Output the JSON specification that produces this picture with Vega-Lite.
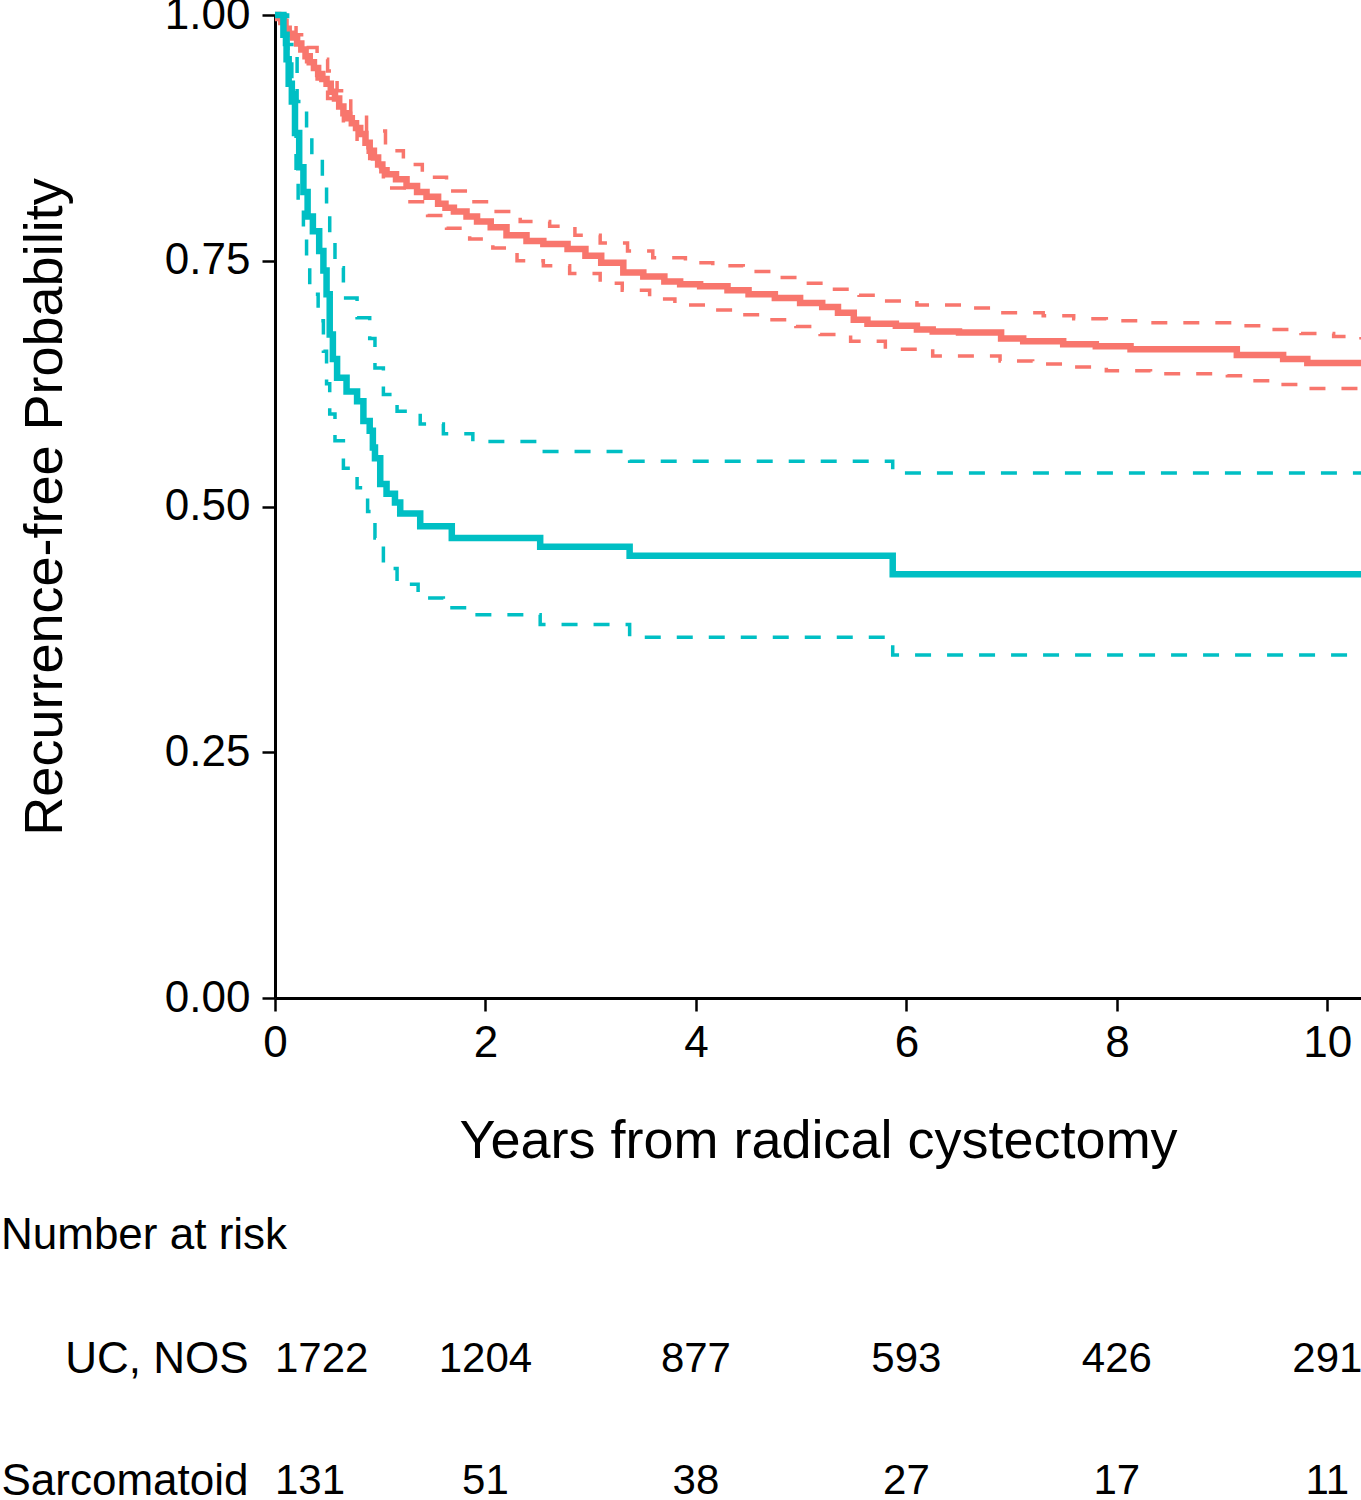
{
  "$schema": "https://vega.github.io/schema/vega-lite/v6.json",
  "autosize": {"type": "pad"},
  "padding": {"left": 0, "top": -7, "right": 0, "bottom": 0},
  "spacing": 46,
  "config": {
    "font": "Liberation Sans",
    "view": {"stroke": null},
    "axis": {
      "domainColor": "black", "domainWidth": 3, "tickColor": "black", "tickWidth": 2.5,
      "labelColor": "black", "titleColor": "black", "grid": false,
      "labelFont": "Liberation Sans", "titleFont": "Liberation Sans", "titleFontWeight": "normal"
    },
    "title": {"font": "Liberation Sans", "fontWeight": "normal", "color": "black"}
  },
  "datasets": {
    "km": [
      {"g": "UC, NOS", "s": "est", "t": 0, "p": 1.0},
      {"g": "UC, NOS", "s": "est", "t": 0.03, "p": 0.997},
      {"g": "UC, NOS", "s": "est", "t": 0.06, "p": 0.993},
      {"g": "UC, NOS", "s": "est", "t": 0.1, "p": 0.986},
      {"g": "UC, NOS", "s": "est", "t": 0.13, "p": 0.981},
      {"g": "UC, NOS", "s": "est", "t": 0.17, "p": 0.977},
      {"g": "UC, NOS", "s": "est", "t": 0.21, "p": 0.971},
      {"g": "UC, NOS", "s": "est", "t": 0.25, "p": 0.965},
      {"g": "UC, NOS", "s": "est", "t": 0.29, "p": 0.958},
      {"g": "UC, NOS", "s": "est", "t": 0.33, "p": 0.952},
      {"g": "UC, NOS", "s": "est", "t": 0.37, "p": 0.946},
      {"g": "UC, NOS", "s": "est", "t": 0.41, "p": 0.94},
      {"g": "UC, NOS", "s": "est", "t": 0.45, "p": 0.935},
      {"g": "UC, NOS", "s": "est", "t": 0.49, "p": 0.93},
      {"g": "UC, NOS", "s": "est", "t": 0.53, "p": 0.922},
      {"g": "UC, NOS", "s": "est", "t": 0.57, "p": 0.915},
      {"g": "UC, NOS", "s": "est", "t": 0.61, "p": 0.907},
      {"g": "UC, NOS", "s": "est", "t": 0.65, "p": 0.9},
      {"g": "UC, NOS", "s": "est", "t": 0.69, "p": 0.895},
      {"g": "UC, NOS", "s": "est", "t": 0.73, "p": 0.89},
      {"g": "UC, NOS", "s": "est", "t": 0.77, "p": 0.885},
      {"g": "UC, NOS", "s": "est", "t": 0.81, "p": 0.879},
      {"g": "UC, NOS", "s": "est", "t": 0.86, "p": 0.87},
      {"g": "UC, NOS", "s": "est", "t": 0.9, "p": 0.862},
      {"g": "UC, NOS", "s": "est", "t": 0.94, "p": 0.855},
      {"g": "UC, NOS", "s": "est", "t": 0.98, "p": 0.848},
      {"g": "UC, NOS", "s": "est", "t": 1.02, "p": 0.842},
      {"g": "UC, NOS", "s": "est", "t": 1.06, "p": 0.838},
      {"g": "UC, NOS", "s": "est", "t": 1.15, "p": 0.833},
      {"g": "UC, NOS", "s": "est", "t": 1.25, "p": 0.826},
      {"g": "UC, NOS", "s": "est", "t": 1.35, "p": 0.82},
      {"g": "UC, NOS", "s": "est", "t": 1.44, "p": 0.815},
      {"g": "UC, NOS", "s": "est", "t": 1.55, "p": 0.808},
      {"g": "UC, NOS", "s": "est", "t": 1.62, "p": 0.804},
      {"g": "UC, NOS", "s": "est", "t": 1.7, "p": 0.8},
      {"g": "UC, NOS", "s": "est", "t": 1.82, "p": 0.795},
      {"g": "UC, NOS", "s": "est", "t": 1.92, "p": 0.79},
      {"g": "UC, NOS", "s": "est", "t": 2.05, "p": 0.784},
      {"g": "UC, NOS", "s": "est", "t": 2.2, "p": 0.776},
      {"g": "UC, NOS", "s": "est", "t": 2.39, "p": 0.77},
      {"g": "UC, NOS", "s": "est", "t": 2.55, "p": 0.767},
      {"g": "UC, NOS", "s": "est", "t": 2.78, "p": 0.762},
      {"g": "UC, NOS", "s": "est", "t": 2.95, "p": 0.755},
      {"g": "UC, NOS", "s": "est", "t": 3.1, "p": 0.748},
      {"g": "UC, NOS", "s": "est", "t": 3.31, "p": 0.738},
      {"g": "UC, NOS", "s": "est", "t": 3.5, "p": 0.734},
      {"g": "UC, NOS", "s": "est", "t": 3.7, "p": 0.729},
      {"g": "UC, NOS", "s": "est", "t": 3.85, "p": 0.726},
      {"g": "UC, NOS", "s": "est", "t": 4.04, "p": 0.724},
      {"g": "UC, NOS", "s": "est", "t": 4.3, "p": 0.72},
      {"g": "UC, NOS", "s": "est", "t": 4.5, "p": 0.716},
      {"g": "UC, NOS", "s": "est", "t": 4.75, "p": 0.712},
      {"g": "UC, NOS", "s": "est", "t": 4.99, "p": 0.707},
      {"g": "UC, NOS", "s": "est", "t": 5.2, "p": 0.703},
      {"g": "UC, NOS", "s": "est", "t": 5.35, "p": 0.697},
      {"g": "UC, NOS", "s": "est", "t": 5.5, "p": 0.69},
      {"g": "UC, NOS", "s": "est", "t": 5.63, "p": 0.686},
      {"g": "UC, NOS", "s": "est", "t": 5.9, "p": 0.684},
      {"g": "UC, NOS", "s": "est", "t": 6.1, "p": 0.68},
      {"g": "UC, NOS", "s": "est", "t": 6.25, "p": 0.678},
      {"g": "UC, NOS", "s": "est", "t": 6.5, "p": 0.677},
      {"g": "UC, NOS", "s": "est", "t": 6.9, "p": 0.671},
      {"g": "UC, NOS", "s": "est", "t": 7.11, "p": 0.668},
      {"g": "UC, NOS", "s": "est", "t": 7.49, "p": 0.665},
      {"g": "UC, NOS", "s": "est", "t": 7.8, "p": 0.663},
      {"g": "UC, NOS", "s": "est", "t": 8.13, "p": 0.66},
      {"g": "UC, NOS", "s": "est", "t": 9.14, "p": 0.654},
      {"g": "UC, NOS", "s": "est", "t": 9.58, "p": 0.65},
      {"g": "UC, NOS", "s": "est", "t": 9.81, "p": 0.646},
      {"g": "UC, NOS", "s": "est", "t": 10.32, "p": 0.643},

      {"g": "UC, NOS", "s": "upper", "t": 0, "p": 1.0},
      {"g": "UC, NOS", "s": "upper", "t": 0.1, "p": 0.99},
      {"g": "UC, NOS", "s": "upper", "t": 0.2, "p": 0.98},
      {"g": "UC, NOS", "s": "upper", "t": 0.3, "p": 0.967},
      {"g": "UC, NOS", "s": "upper", "t": 0.4, "p": 0.955},
      {"g": "UC, NOS", "s": "upper", "t": 0.5, "p": 0.943},
      {"g": "UC, NOS", "s": "upper", "t": 0.59, "p": 0.923},
      {"g": "UC, NOS", "s": "upper", "t": 0.72, "p": 0.9},
      {"g": "UC, NOS", "s": "upper", "t": 0.87, "p": 0.882},
      {"g": "UC, NOS", "s": "upper", "t": 1.05, "p": 0.862},
      {"g": "UC, NOS", "s": "upper", "t": 1.22, "p": 0.848},
      {"g": "UC, NOS", "s": "upper", "t": 1.4, "p": 0.835},
      {"g": "UC, NOS", "s": "upper", "t": 1.63, "p": 0.821},
      {"g": "UC, NOS", "s": "upper", "t": 1.85, "p": 0.81},
      {"g": "UC, NOS", "s": "upper", "t": 2.07, "p": 0.8},
      {"g": "UC, NOS", "s": "upper", "t": 2.33, "p": 0.79},
      {"g": "UC, NOS", "s": "upper", "t": 2.61, "p": 0.785},
      {"g": "UC, NOS", "s": "upper", "t": 2.85, "p": 0.776},
      {"g": "UC, NOS", "s": "upper", "t": 3.09, "p": 0.768},
      {"g": "UC, NOS", "s": "upper", "t": 3.35, "p": 0.76},
      {"g": "UC, NOS", "s": "upper", "t": 3.59, "p": 0.753},
      {"g": "UC, NOS", "s": "upper", "t": 3.9, "p": 0.748},
      {"g": "UC, NOS", "s": "upper", "t": 4.16, "p": 0.745},
      {"g": "UC, NOS", "s": "upper", "t": 4.45, "p": 0.739},
      {"g": "UC, NOS", "s": "upper", "t": 4.73, "p": 0.733},
      {"g": "UC, NOS", "s": "upper", "t": 5.0, "p": 0.727},
      {"g": "UC, NOS", "s": "upper", "t": 5.3, "p": 0.721},
      {"g": "UC, NOS", "s": "upper", "t": 5.55, "p": 0.715},
      {"g": "UC, NOS", "s": "upper", "t": 5.78, "p": 0.709},
      {"g": "UC, NOS", "s": "upper", "t": 6.1, "p": 0.705},
      {"g": "UC, NOS", "s": "upper", "t": 6.58, "p": 0.702},
      {"g": "UC, NOS", "s": "upper", "t": 6.9, "p": 0.697},
      {"g": "UC, NOS", "s": "upper", "t": 7.3, "p": 0.694},
      {"g": "UC, NOS", "s": "upper", "t": 7.59, "p": 0.691},
      {"g": "UC, NOS", "s": "upper", "t": 7.9, "p": 0.689},
      {"g": "UC, NOS", "s": "upper", "t": 8.22, "p": 0.687},
      {"g": "UC, NOS", "s": "upper", "t": 9.11, "p": 0.684},
      {"g": "UC, NOS", "s": "upper", "t": 9.43, "p": 0.68},
      {"g": "UC, NOS", "s": "upper", "t": 9.75, "p": 0.676},
      {"g": "UC, NOS", "s": "upper", "t": 10.06, "p": 0.673},
      {"g": "UC, NOS", "s": "upper", "t": 10.32, "p": 0.67},

      {"g": "UC, NOS", "s": "lower", "t": 0, "p": 1.0},
      {"g": "UC, NOS", "s": "lower", "t": 0.1, "p": 0.98},
      {"g": "UC, NOS", "s": "lower", "t": 0.2, "p": 0.965},
      {"g": "UC, NOS", "s": "lower", "t": 0.3, "p": 0.95},
      {"g": "UC, NOS", "s": "lower", "t": 0.4, "p": 0.935},
      {"g": "UC, NOS", "s": "lower", "t": 0.5, "p": 0.915},
      {"g": "UC, NOS", "s": "lower", "t": 0.65, "p": 0.885},
      {"g": "UC, NOS", "s": "lower", "t": 0.78, "p": 0.865},
      {"g": "UC, NOS", "s": "lower", "t": 0.9, "p": 0.845},
      {"g": "UC, NOS", "s": "lower", "t": 1.03, "p": 0.824},
      {"g": "UC, NOS", "s": "lower", "t": 1.25, "p": 0.81},
      {"g": "UC, NOS", "s": "lower", "t": 1.45, "p": 0.796},
      {"g": "UC, NOS", "s": "lower", "t": 1.63, "p": 0.783},
      {"g": "UC, NOS", "s": "lower", "t": 1.85, "p": 0.772},
      {"g": "UC, NOS", "s": "lower", "t": 2.07, "p": 0.763},
      {"g": "UC, NOS", "s": "lower", "t": 2.3, "p": 0.75},
      {"g": "UC, NOS", "s": "lower", "t": 2.55, "p": 0.745},
      {"g": "UC, NOS", "s": "lower", "t": 2.8, "p": 0.737},
      {"g": "UC, NOS", "s": "lower", "t": 3.09, "p": 0.727},
      {"g": "UC, NOS", "s": "lower", "t": 3.3, "p": 0.72},
      {"g": "UC, NOS", "s": "lower", "t": 3.56, "p": 0.711},
      {"g": "UC, NOS", "s": "lower", "t": 3.8, "p": 0.705},
      {"g": "UC, NOS", "s": "lower", "t": 4.1, "p": 0.7},
      {"g": "UC, NOS", "s": "lower", "t": 4.4, "p": 0.695},
      {"g": "UC, NOS", "s": "lower", "t": 4.68, "p": 0.69},
      {"g": "UC, NOS", "s": "lower", "t": 4.95, "p": 0.683},
      {"g": "UC, NOS", "s": "lower", "t": 5.18, "p": 0.675},
      {"g": "UC, NOS", "s": "lower", "t": 5.47, "p": 0.668},
      {"g": "UC, NOS", "s": "lower", "t": 5.8, "p": 0.66},
      {"g": "UC, NOS", "s": "lower", "t": 6.25, "p": 0.653},
      {"g": "UC, NOS", "s": "lower", "t": 6.89, "p": 0.648},
      {"g": "UC, NOS", "s": "lower", "t": 7.2, "p": 0.645},
      {"g": "UC, NOS", "s": "lower", "t": 7.53, "p": 0.642},
      {"g": "UC, NOS", "s": "lower", "t": 7.9, "p": 0.638},
      {"g": "UC, NOS", "s": "lower", "t": 8.32, "p": 0.635},
      {"g": "UC, NOS", "s": "lower", "t": 9.05, "p": 0.633},
      {"g": "UC, NOS", "s": "lower", "t": 9.27, "p": 0.628},
      {"g": "UC, NOS", "s": "lower", "t": 9.5, "p": 0.624},
      {"g": "UC, NOS", "s": "lower", "t": 9.74, "p": 0.62},
      {"g": "UC, NOS", "s": "lower", "t": 10.32, "p": 0.619},

      {"g": "Sarcomatoid", "s": "est", "t": 0, "p": 1.0},
      {"g": "Sarcomatoid", "s": "est", "t": 0.08, "p": 0.98},
      {"g": "Sarcomatoid", "s": "est", "t": 0.11, "p": 0.955},
      {"g": "Sarcomatoid", "s": "est", "t": 0.13, "p": 0.93},
      {"g": "Sarcomatoid", "s": "est", "t": 0.16, "p": 0.912},
      {"g": "Sarcomatoid", "s": "est", "t": 0.19, "p": 0.88},
      {"g": "Sarcomatoid", "s": "est", "t": 0.23, "p": 0.845},
      {"g": "Sarcomatoid", "s": "est", "t": 0.27, "p": 0.82},
      {"g": "Sarcomatoid", "s": "est", "t": 0.31, "p": 0.795},
      {"g": "Sarcomatoid", "s": "est", "t": 0.36, "p": 0.78},
      {"g": "Sarcomatoid", "s": "est", "t": 0.42, "p": 0.76},
      {"g": "Sarcomatoid", "s": "est", "t": 0.46, "p": 0.74},
      {"g": "Sarcomatoid", "s": "est", "t": 0.49, "p": 0.716},
      {"g": "Sarcomatoid", "s": "est", "t": 0.52, "p": 0.675},
      {"g": "Sarcomatoid", "s": "est", "t": 0.55, "p": 0.65},
      {"g": "Sarcomatoid", "s": "est", "t": 0.59, "p": 0.631},
      {"g": "Sarcomatoid", "s": "est", "t": 0.68, "p": 0.617},
      {"g": "Sarcomatoid", "s": "est", "t": 0.78, "p": 0.607},
      {"g": "Sarcomatoid", "s": "est", "t": 0.84, "p": 0.587},
      {"g": "Sarcomatoid", "s": "est", "t": 0.9, "p": 0.577},
      {"g": "Sarcomatoid", "s": "est", "t": 0.93, "p": 0.56},
      {"g": "Sarcomatoid", "s": "est", "t": 0.95, "p": 0.549},
      {"g": "Sarcomatoid", "s": "est", "t": 1.0, "p": 0.523},
      {"g": "Sarcomatoid", "s": "est", "t": 1.06, "p": 0.513},
      {"g": "Sarcomatoid", "s": "est", "t": 1.14, "p": 0.504},
      {"g": "Sarcomatoid", "s": "est", "t": 1.19, "p": 0.493},
      {"g": "Sarcomatoid", "s": "est", "t": 1.38, "p": 0.48},
      {"g": "Sarcomatoid", "s": "est", "t": 1.68, "p": 0.468},
      {"g": "Sarcomatoid", "s": "est", "t": 2.52, "p": 0.459},
      {"g": "Sarcomatoid", "s": "est", "t": 3.37, "p": 0.45},
      {"g": "Sarcomatoid", "s": "est", "t": 5.87, "p": 0.431},
      {"g": "Sarcomatoid", "s": "est", "t": 10.32, "p": 0.431},

      {"g": "Sarcomatoid", "s": "upper", "t": 0, "p": 1.0},
      {"g": "Sarcomatoid", "s": "upper", "t": 0.12, "p": 0.966},
      {"g": "Sarcomatoid", "s": "upper", "t": 0.21, "p": 0.912},
      {"g": "Sarcomatoid", "s": "upper", "t": 0.3, "p": 0.885},
      {"g": "Sarcomatoid", "s": "upper", "t": 0.35, "p": 0.855},
      {"g": "Sarcomatoid", "s": "upper", "t": 0.45, "p": 0.831},
      {"g": "Sarcomatoid", "s": "upper", "t": 0.49, "p": 0.797},
      {"g": "Sarcomatoid", "s": "upper", "t": 0.52, "p": 0.773},
      {"g": "Sarcomatoid", "s": "upper", "t": 0.57, "p": 0.743},
      {"g": "Sarcomatoid", "s": "upper", "t": 0.65, "p": 0.712},
      {"g": "Sarcomatoid", "s": "upper", "t": 0.78, "p": 0.692},
      {"g": "Sarcomatoid", "s": "upper", "t": 0.9, "p": 0.671},
      {"g": "Sarcomatoid", "s": "upper", "t": 0.95, "p": 0.641},
      {"g": "Sarcomatoid", "s": "upper", "t": 1.03, "p": 0.614},
      {"g": "Sarcomatoid", "s": "upper", "t": 1.16, "p": 0.597},
      {"g": "Sarcomatoid", "s": "upper", "t": 1.38, "p": 0.584},
      {"g": "Sarcomatoid", "s": "upper", "t": 1.6, "p": 0.574},
      {"g": "Sarcomatoid", "s": "upper", "t": 1.88, "p": 0.566},
      {"g": "Sarcomatoid", "s": "upper", "t": 2.52, "p": 0.556},
      {"g": "Sarcomatoid", "s": "upper", "t": 3.37, "p": 0.546},
      {"g": "Sarcomatoid", "s": "upper", "t": 5.87, "p": 0.534},
      {"g": "Sarcomatoid", "s": "upper", "t": 10.32, "p": 0.534},

      {"g": "Sarcomatoid", "s": "lower", "t": 0, "p": 1.0},
      {"g": "Sarcomatoid", "s": "lower", "t": 0.09, "p": 0.97},
      {"g": "Sarcomatoid", "s": "lower", "t": 0.16, "p": 0.93},
      {"g": "Sarcomatoid", "s": "lower", "t": 0.19, "p": 0.895},
      {"g": "Sarcomatoid", "s": "lower", "t": 0.2, "p": 0.838},
      {"g": "Sarcomatoid", "s": "lower", "t": 0.22, "p": 0.81},
      {"g": "Sarcomatoid", "s": "lower", "t": 0.27, "p": 0.777},
      {"g": "Sarcomatoid", "s": "lower", "t": 0.3, "p": 0.743},
      {"g": "Sarcomatoid", "s": "lower", "t": 0.33, "p": 0.716},
      {"g": "Sarcomatoid", "s": "lower", "t": 0.41, "p": 0.689},
      {"g": "Sarcomatoid", "s": "lower", "t": 0.46, "p": 0.658},
      {"g": "Sarcomatoid", "s": "lower", "t": 0.49, "p": 0.625},
      {"g": "Sarcomatoid", "s": "lower", "t": 0.52, "p": 0.594},
      {"g": "Sarcomatoid", "s": "lower", "t": 0.57, "p": 0.567},
      {"g": "Sarcomatoid", "s": "lower", "t": 0.65, "p": 0.539},
      {"g": "Sarcomatoid", "s": "lower", "t": 0.78, "p": 0.519},
      {"g": "Sarcomatoid", "s": "lower", "t": 0.88, "p": 0.495},
      {"g": "Sarcomatoid", "s": "lower", "t": 0.95, "p": 0.468},
      {"g": "Sarcomatoid", "s": "lower", "t": 1.03, "p": 0.437},
      {"g": "Sarcomatoid", "s": "lower", "t": 1.16, "p": 0.421},
      {"g": "Sarcomatoid", "s": "lower", "t": 1.36, "p": 0.407},
      {"g": "Sarcomatoid", "s": "lower", "t": 1.6, "p": 0.397},
      {"g": "Sarcomatoid", "s": "lower", "t": 1.9, "p": 0.39},
      {"g": "Sarcomatoid", "s": "lower", "t": 2.52, "p": 0.38},
      {"g": "Sarcomatoid", "s": "lower", "t": 3.37, "p": 0.367},
      {"g": "Sarcomatoid", "s": "lower", "t": 5.87, "p": 0.349},
      {"g": "Sarcomatoid", "s": "lower", "t": 10.32, "p": 0.349}
    ],
    "risk": [
      {"g": "UC, NOS", "t": 0, "n": 1722},
      {"g": "UC, NOS", "t": 2, "n": 1204},
      {"g": "UC, NOS", "t": 4, "n": 877},
      {"g": "UC, NOS", "t": 6, "n": 593},
      {"g": "UC, NOS", "t": 8, "n": 426},
      {"g": "UC, NOS", "t": 10, "n": 291},
      {"g": "Sarcomatoid", "t": 0, "n": 131},
      {"g": "Sarcomatoid", "t": 2, "n": 51},
      {"g": "Sarcomatoid", "t": 4, "n": 38},
      {"g": "Sarcomatoid", "t": 6, "n": 27},
      {"g": "Sarcomatoid", "t": 8, "n": 17},
      {"g": "Sarcomatoid", "t": 10, "n": 11}
    ]
  },
  "vconcat": [
    {
      "width": 1086,
      "height": 983,
      "data": {"name": "km"},
      "encoding": {
        "x": {
          "field": "t", "type": "quantitative",
          "scale": {"domain": [0, 10.32], "nice": false, "zero": false},
          "axis": {
            "values": [0, 2, 4, 6, 8, 10], "labelFontSize": 44, "tickSize": 13,
            "labelPadding": 10, "title": "Years from radical cystectomy",
            "titleFontSize": 54, "titlePadding": 49, "labelFlush": false
          }
        },
        "y": {
          "field": "p", "type": "quantitative",
          "scale": {"domain": [0, 1], "nice": false},
          "axis": {
            "values": [0, 0.25, 0.5, 0.75, 1], "format": ".2f", "labelFontSize": 44,
            "tickSize": 13, "labelPadding": 12, "title": "Recurrence-free Probability",
            "titleFontSize": 54, "titlePadding": 92, "labelFlush": false
          }
        },
        "color": {
          "field": "g", "type": "nominal",
          "scale": {"domain": ["UC, NOS", "Sarcomatoid"], "range": ["#F8766D", "#00BFC4"]},
          "legend": null
        },
        "detail": {"field": "s", "type": "nominal"}
      },
      "layer": [
        {
          "transform": [{"filter": "datum.s !== 'est'"}],
          "mark": {"type": "line", "interpolate": "step-after", "strokeWidth": 3.5, "strokeDash": [16, 16]}
        },
        {
          "transform": [{"filter": "datum.s === 'est'"}],
          "mark": {"type": "line", "interpolate": "step-after", "strokeWidth": 6.5}
        }
      ]
    },
    {
      "width": 1086,
      "height": 244,
      "data": {"name": "risk"},
      "title": {"text": "Number at risk", "anchor": "start", "frame": "bounds", "fontSize": 44, "offset": 40},
      "encoding": {
        "x": {"field": "t", "type": "quantitative", "scale": {"domain": [0, 10.32], "nice": false}, "axis": null},
        "y": {
          "field": "g", "type": "nominal",
          "scale": {"type": "point", "padding": 0.5, "domain": ["UC, NOS", "Sarcomatoid"]},
          "axis": {"title": null, "domain": false, "ticks": false, "labelFontSize": 44, "labelPadding": 27, "labelLimit": 0}
        },
        "text": {"field": "n", "type": "quantitative"}
      },
      "layer": [
        {
          "transform": [{"filter": "datum.t === 0"}],
          "mark": {"type": "text", "align": "left", "baseline": "middle", "fontSize": 42, "color": "black"}
        },
        {
          "transform": [{"filter": "datum.t > 0"}],
          "mark": {"type": "text", "align": "center", "baseline": "middle", "fontSize": 42, "color": "black"}
        }
      ]
    }
  ]
}
